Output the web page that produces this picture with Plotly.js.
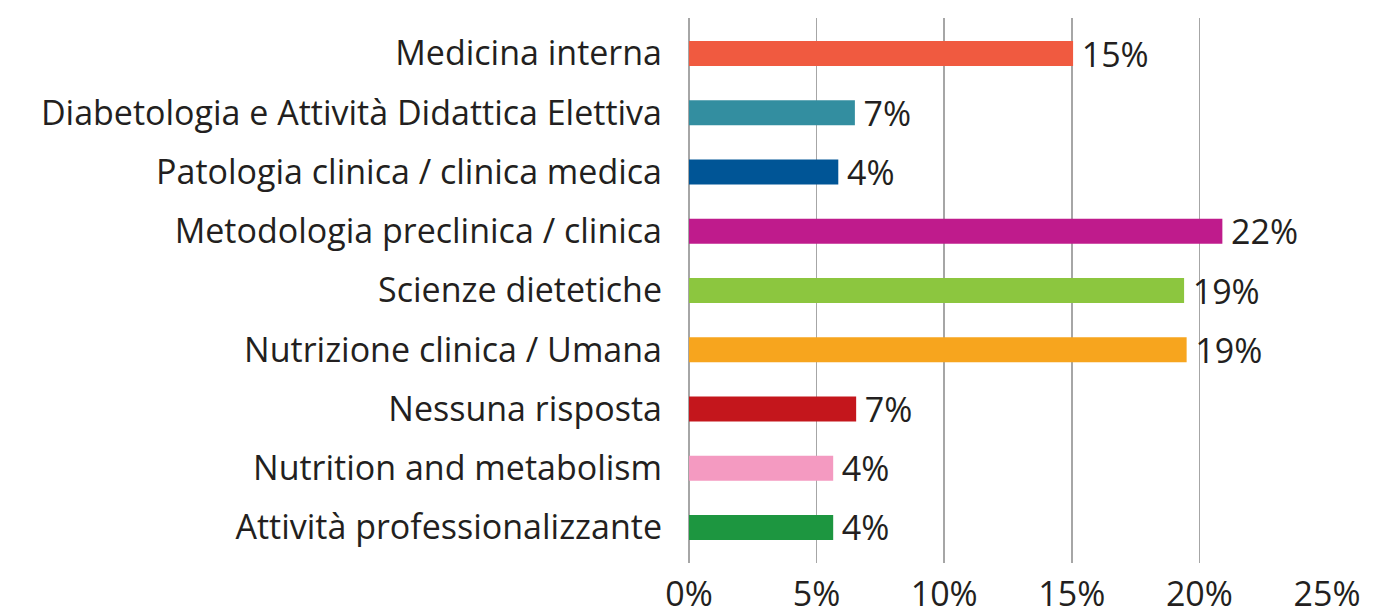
<!DOCTYPE html>
<html>
<head>
<meta charset="utf-8">
<script src="https://cdn.plot.ly/plotly-3.0.1.min.js"></script>
<style>html,body{margin:0;padding:0;background:#fff;}#chart{width:1375px;height:613px;}</style>
</head>
<body>
<div id="chart"></div>
<script>
var categories = [
  "Medicina interna",
  "Diabetologia e Attività Didattica Elettiva",
  "Patologia clinica / clinica medica",
  "Metodologia preclinica / clinica",
  "Scienze dietetiche",
  "Nutrizione clinica / Umana",
  "Nessuna risposta",
  "Nutrition and metabolism",
  "Attività professionalizzante"
];
var values = [15.05, 6.5, 5.85, 20.9, 19.4, 19.5, 6.55, 5.65, 5.65];
var valueLabels = ["15%", "7%", "4%", "22%", "19%", "19%", "7%", "4%", "4%"];
var barColors = ["#f05a40", "#338ea0", "#005596", "#bf1b8c", "#8cc63f", "#f7a51e", "#c4161c", "#f49ac1", "#1d9640"];
var xTickVals = [0, 5, 10, 15, 20, 25];
var xTickText = ["0%", "5%", "10%", "15%", "20%", "25%"];

var font = "'Open Sans', 'Noto Sans', sans-serif";
var textColor = "#231f20";

var trace = {
  type: "bar",
  orientation: "h",
  y: categories,
  x: values,
  text: valueLabels,
  texttemplate: "\u2009%{text}",
  textposition: "outside",
  constraintext: "none",
  cliponaxis: false,
  textfont: {family: font, size: 34, color: textColor},
  marker: {color: barColors},
  hoverinfo: "none"
};

var layout = {
  width: 1375,
  height: 613,
  margin: {l: 689, r: 48, t: 18, b: 50},
  paper_bgcolor: "#ffffff",
  plot_bgcolor: "#ffffff",
  showlegend: false,
  bargap: 0.58,
  font: {family: font, size: 34, color: textColor},
  xaxis: {
    range: [0, 25],
    tickvals: xTickVals,
    ticktext: xTickText,
    showgrid: true,
    gridcolor: "#a6a6a6",
    gridwidth: 1.5,
    zeroline: true,
    zerolinecolor: "#a6a6a6",
    zerolinewidth: 1.5,
    showline: false,
    ticks: "",
    ticklabelstandoff: 8,
    tickfont: {family: font, size: 34, color: textColor},
    fixedrange: true
  },
  yaxis: {
    type: "category",
    range: [8.6, -0.6],
    showgrid: false,
    zeroline: false,
    showline: false,
    ticks: "",
    ticklabelstandoff: 26,
    tickfont: {family: font, size: 34, color: textColor},
    fixedrange: true
  }
};

Plotly.newPlot("chart", [trace], layout, {displayModeBar: false, staticPlot: true});
</script>
</body>
</html>
